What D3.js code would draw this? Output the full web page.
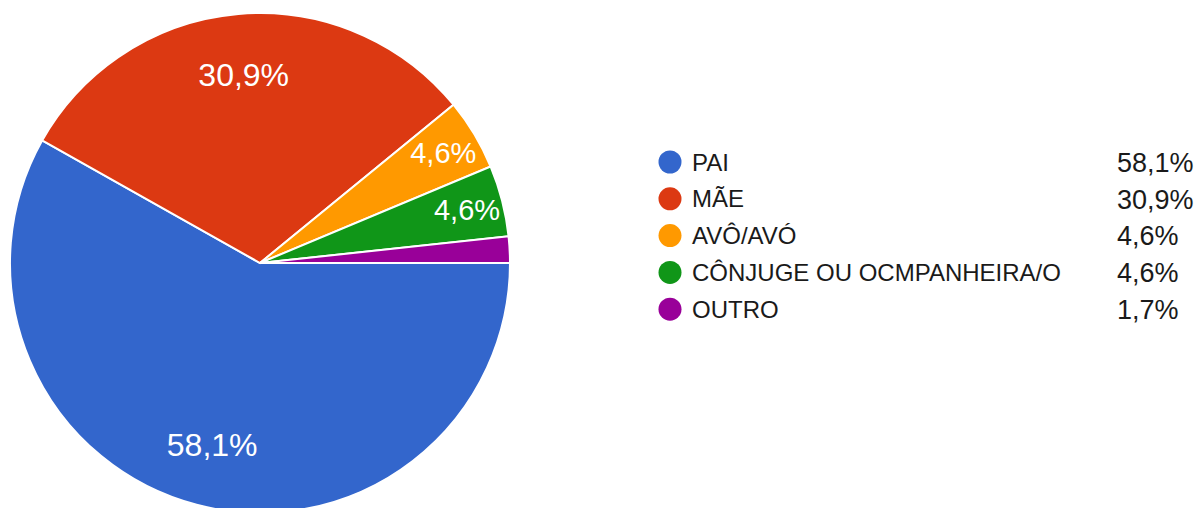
<!DOCTYPE html>
<html>
<head>
<meta charset="utf-8">
<script src="https://cdn.jsdelivr.net/npm/d3@7"></script>
<style>
  body { margin: 0; background: #fff; }
  svg { display: block; font-family: "Liberation Sans", Arial, sans-serif; }
</style>
</head>
<body>
<svg id="chart" width="1201" height="508"></svg>
<script>
  // data
  var categories = ["PAI", "MÃE", "AVÔ/AVÓ", "CÔNJUGE OU OCMPANHEIRA/O", "OUTRO"];
  var values = [58.1, 30.9, 4.6, 4.6, 1.7];
  var labels = ["58,1%", "30,9%", "4,6%", "4,6%", "1,7%"];
  var colors = ["#3366cc", "#dc3912", "#ff9900", "#109618", "#990099"];

  var svg = d3.select("#chart");
  var cx = 260, cy = 263, R = 250;

  var pie = d3.pie()
      .sort(null)
      .startAngle(Math.PI / 2)
      .endAngle(Math.PI / 2 + 2 * Math.PI)
      .value(function(d) { return d; });

  var arc = d3.arc().innerRadius(0).outerRadius(R);
  var arcs = pie(values);

  var g = svg.append("g").attr("transform", "translate(" + cx + "," + cy + ")");

  g.selectAll("path")
    .data(arcs)
    .enter().append("path")
      .attr("d", arc)
      .attr("fill", function(d, i) { return colors[i]; })
      .attr("stroke", "#fff")
      .attr("stroke-width", 2);

  // small slices get their label further out, tiny ones none
  g.selectAll("text.slice")
    .data(arcs.filter(function(d) { return d.value >= 3; }))
    .enter().append("text")
      .attr("class", "slice")
      .attr("transform", function(d) {
        var r = d.value < 10 ? R * 0.855 : R * 0.755;
        var a = (d.startAngle + d.endAngle) / 2;
        return "translate(" + (r * Math.sin(a)) + "," + (-r * Math.cos(a)) + ")";
      })
      .attr("text-anchor", "middle")
      .attr("dy", "0.34em")
      .attr("fill", "#fff")
      .style("font-size", function(d) { return d.value < 10 ? "29px" : "32px"; })
      .text(function(d) { return labels[d.index]; });

  // legend
  var legend = svg.append("g").attr("transform", "translate(670,162)");
  var rowH = 36.8;

  var rows = legend.selectAll("g")
    .data(categories)
    .enter().append("g")
      .attr("transform", function(d, i) { return "translate(0," + (i * rowH) + ")"; });

  rows.append("circle")
      .attr("r", 11.5)
      .attr("fill", function(d, i) { return colors[i]; });

  rows.append("text")
      .attr("x", 22)
      .attr("dy", "0.36em")
      .attr("fill", "#1a1a1a")
      .style("font-size", "24px")
      .text(function(d) { return d; });

  rows.append("text")
      .attr("x", 447)
      .attr("dy", "0.36em")
      .attr("fill", "#1a1a1a")
      .style("font-size", "27px")
      .text(function(d, i) { return labels[i]; });
</script>
</body>
</html>
